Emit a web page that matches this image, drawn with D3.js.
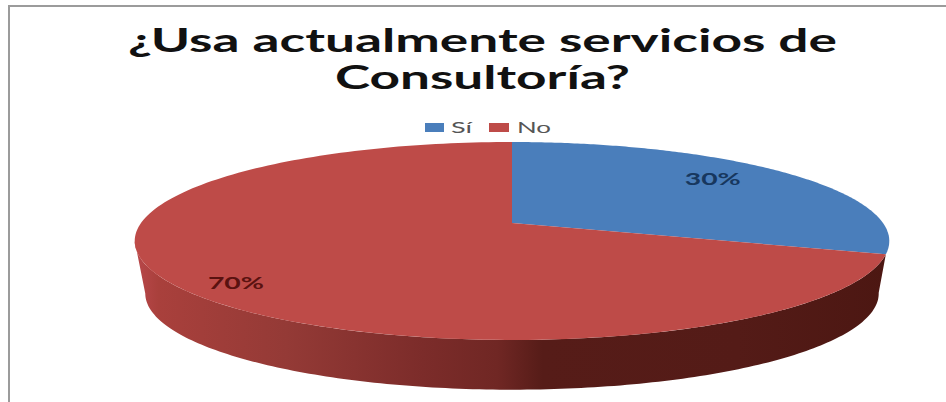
<!DOCTYPE html>
<html>
<head>
<meta charset="utf-8">
<script src="https://cdn.jsdelivr.net/npm/d3@7"></script>
<style>
  html, body { margin: 0; padding: 0; background: #fff; }
  svg { display: block; }
</style>
</head>
<body>
<svg id="chart" width="946" height="402"></svg>
<script>
const categories = ["Sí", "No"];
const shares = [30, 70];
const sliceColors = ["#4a7ebb", "#be4b48"];
const labelColors = ["#17375e", "#5a1210"];
const titleLines = ["¿Usa actualmente servicios de", "Consultoría?"];

const svg = d3.select("#chart");
const defs = svg.append("defs");

// Perspective projection of a flat disc: (angle, radius) to screen offsets.
const TILT = 0.1818, DEPTH_Y = 95.7, WIDTH_X = 371;
function project(angle, r, cx, cy, scale) {
  const u = Math.sin(angle) * r, v = -Math.cos(angle) * r;
  const d = 1 - TILT * v;
  return [cx + scale * WIDTH_X * u / d, cy + scale * DEPTH_Y * v / d];
}
const topDisc = { cx: 512, cy: 223, scale: 1 };
const baseDisc = { cx: 512, cy: 276, scale: 0.972 };

const line = d3.line().curve(d3.curveLinear);
function arcPoints(a0, a1, disc) {
  return d3.range(0, 181).map(i => {
    const a = a0 + (a1 - a0) * i / 180;
    return project(a, 1, disc.cx, disc.cy, disc.scale);
  });
}

const pie = d3.pie().sort(null)(shares);

// Outer wall of the disc: front half only, shaded from light left to dark right.
const wallGrad = defs.append("linearGradient")
  .attr("id", "wallShade").attr("gradientUnits", "userSpaceOnUse")
  .attr("x1", 136).attr("x2", 889).attr("y1", 0).attr("y2", 0);
[[0, "#b8474a"], [0.03, "#a9403c"], [0.2, "#943a36"], [0.38, "#7c2c2a"],
 [0.48, "#702724"], [0.54, "#561c18"], [0.8, "#541b17"], [1, "#4c1712"]]
  .forEach(([o, c]) => wallGrad.append("stop").attr("offset", o).attr("stop-color", c));

// The wall runs from the right shoulder of the disc round the front to its left extreme.
const wallStart = pie[0].endAngle;
const baseStart = d3.scaleLinear().domain([0, 1]).range([0, 2 * Math.PI])(0.278);
const wallEnd = 2 * Math.PI * 0.721;
const wallPts = arcPoints(wallStart, wallEnd, topDisc)
  .concat(arcPoints(wallEnd, baseStart, baseDisc));
svg.append("path").attr("d", line(wallPts) + "Z").attr("fill", "url(#wallShade)");

// Top face slices.
svg.selectAll("path.slice").data(pie).join("path")
  .attr("class", "slice")
  .attr("fill", (d, i) => sliceColors[i])
  .attr("d", d => line([[topDisc.cx, topDisc.cy]]
    .concat(arcPoints(d.startAngle, d.endAngle, topDisc))) + "Z");

// Percentage labels sit along each slice's mid-angle, with a small manual nudge.
const labelReach = [0.73, 0.85];
const labelNudge = [[-2.5, 0], [4.5, 13]];
svg.selectAll("text.pct").data(pie).join("text")
  .attr("class", "pct")
  .attr("text-anchor", "middle")
  .attr("font-family", "Lato, sans-serif")
  .attr("font-weight", 700)
  .attr("font-size", 17)
  .attr("fill", (d, i) => labelColors[i])
  .attr("textLength", 56)
  .attr("lengthAdjust", "spacingAndGlyphs")
  .attr("transform", (d, i) => {
    const [x, y] = project((d.startAngle + d.endAngle) / 2, labelReach[i],
      topDisc.cx, topDisc.cy, topDisc.scale);
    return `translate(${x + labelNudge[i][0]},${y + labelNudge[i][1]})`;
  })
  .text((d, i) => `${shares[i]}%`);

// Title: two centred lines, stretched wide.
const titleWidths = [709, 295];
svg.selectAll("text.title").data(titleLines).join("text")
  .attr("class", "title")
  .attr("x", 482.5).attr("y", (d, i) => 52 + i * 37)
  .attr("text-anchor", "middle")
  .attr("font-family", "Lato, sans-serif")
  .attr("font-weight", 700)
  .attr("font-size", 33)
  .attr("fill", "#111")
  .attr("textLength", (d, i) => titleWidths[i])
  .attr("lengthAdjust", "spacingAndGlyphs")
  .text(d => d);

// Legend.
const legendX = [425, 489], legendW = [19, 20], legendTextX = [451, 517], legendTextW = [21, 34];
const legend = svg.selectAll("g.legend").data(categories).join("g").attr("class", "legend");
legend.append("rect")
  .attr("x", (d, i) => legendX[i]).attr("y", 123)
  .attr("width", (d, i) => legendW[i]).attr("height", 9)
  .attr("fill", (d, i) => sliceColors[i]);
legend.append("text")
  .attr("x", (d, i) => legendTextX[i]).attr("y", 133)
  .attr("font-family", "Lato, sans-serif")
  .attr("font-size", 15.5)
  .attr("fill", "#555")
  .attr("textLength", (d, i) => legendTextW[i])
  .attr("lengthAdjust", "spacingAndGlyphs")
  .text(d => d);

// Chart area frame, visible along the top and left edges.
svg.append("path")
  .attr("d", d3.line()([[946, 6], [9, 6], [9, 402]]))
  .attr("fill", "none").attr("stroke", "#9b9b9b").attr("stroke-width", 2);
</script>
</body>
</html>
